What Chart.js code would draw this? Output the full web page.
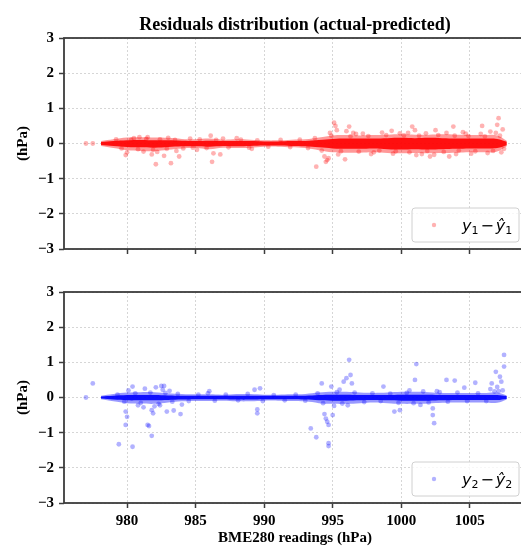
<!DOCTYPE html>
<html>
<head>
<meta charset="utf-8">
<script src="https://cdn.jsdelivr.net/npm/chart.js@4/dist/chart.umd.min.js"></script>
<style>
  html, body { margin: 0; padding: 0; background: #fff; width: 521px; height: 546px; overflow: hidden; }
  canvas { position: absolute; left: 0; }
</style>
</head>
<body>
<canvas id="top" width="530" height="270" style="top:0"></canvas>
<canvas id="bottom" width="530" height="280" style="top:270px"></canvas>
<script>
// axis range and ticks
const xMin = 975.4, xMax = 1009.1;
const xTicks = [980, 985, 990, 995, 1000, 1005];
const yTicks = [-3, -2, -1, 0, 1, 2, 3];

// dense band around zero, read as envelopes at each hPa
const bandX = [978.1,979,980,981,982,983,984,985,986,987,988,989,990,991,992,993,994,995,996,997,998,999,1000,1001,1002,1003,1004,1005,1006,1007,1007.7];
const topCoreHi = [0.04,0.07,0.09,0.10,0.09,0.09,0.08,0.07,0.08,0.07,0.07,0.07,0.06,0.06,0.07,0.07,0.10,0.13,0.14,0.14,0.14,0.15,0.16,0.15,0.16,0.15,0.14,0.14,0.14,0.13,0.05];
const topCoreLo = [-0.04,-0.07,-0.10,-0.11,-0.12,-0.10,-0.08,-0.08,-0.09,-0.07,-0.08,-0.07,-0.06,-0.06,-0.07,-0.08,-0.11,-0.14,-0.15,-0.15,-0.14,-0.16,-0.17,-0.16,-0.17,-0.16,-0.15,-0.14,-0.14,-0.13,-0.05];
const topFuzzHi = [0.07,0.12,0.17,0.18,0.17,0.16,0.13,0.12,0.14,0.11,0.12,0.11,0.09,0.09,0.11,0.12,0.17,0.23,0.24,0.23,0.24,0.25,0.26,0.25,0.25,0.26,0.25,0.24,0.24,0.23,0.08];
const topFuzzLo = [-0.07,-0.13,-0.19,-0.21,-0.22,-0.18,-0.14,-0.13,-0.16,-0.12,-0.13,-0.12,-0.09,-0.09,-0.11,-0.13,-0.19,-0.25,-0.26,-0.26,-0.25,-0.27,-0.28,-0.27,-0.28,-0.27,-0.26,-0.25,-0.25,-0.23,-0.08];
const botCoreHi = [0.03,0.05,0.07,0.07,0.07,0.06,0.05,0.05,0.05,0.05,0.05,0.05,0.05,0.05,0.05,0.05,0.07,0.08,0.08,0.07,0.07,0.07,0.08,0.08,0.08,0.07,0.07,0.07,0.07,0.07,0.04];
const botCoreLo = [-0.03,-0.06,-0.08,-0.08,-0.08,-0.07,-0.06,-0.05,-0.05,-0.05,-0.06,-0.06,-0.05,-0.05,-0.05,-0.06,-0.08,-0.09,-0.09,-0.08,-0.07,-0.08,-0.09,-0.09,-0.09,-0.08,-0.07,-0.07,-0.07,-0.07,-0.04];
const botFuzzHi = [0.05,0.10,0.14,0.15,0.15,0.12,0.10,0.09,0.09,0.08,0.10,0.10,0.08,0.08,0.09,0.10,0.14,0.16,0.16,0.14,0.13,0.14,0.16,0.16,0.15,0.13,0.13,0.13,0.13,0.14,0.06];
const botFuzzLo = [-0.05,-0.11,-0.16,-0.17,-0.18,-0.14,-0.11,-0.10,-0.10,-0.09,-0.11,-0.11,-0.09,-0.09,-0.10,-0.11,-0.16,-0.18,-0.18,-0.16,-0.14,-0.16,-0.18,-0.18,-0.17,-0.15,-0.14,-0.14,-0.14,-0.15,-0.06];

// scattered residuals (x hPa, residual hPa)
const topPoints = [
  [977.0,0.0],[977.5,0.0],[979.9,-0.33],[980.0,-0.25],[981.2,-0.23],[981.8,-0.31],[982.1,-0.59],[982.7,-0.35],
  [983.2,-0.56],[983.8,-0.37],[986.1,0.22],[986.2,-0.52],[986.8,-0.31],[986.3,-0.28],[988.0,0.15],[980.5,0.15],
  [981.5,0.18],[984.6,0.14],[983.0,0.16],[993.8,-0.66],[994.4,-0.37],[994.6,-0.47],[994.7,-0.42],[994.5,-0.52],
  [995.1,0.59],[995.2,0.50],[995.3,0.38],[996.2,0.48],[996.0,0.35],[995.9,-0.45],[996.5,0.30],[999.3,0.36],
  [999.9,0.29],[1000.8,0.48],[1001.0,0.38],[1002.1,-0.37],[1002.5,0.38],[1003.5,-0.37],[1003.8,0.48],[1004.5,0.32],
  [1005.9,0.50],[1006.5,0.34],[1007.0,0.53],[1007.1,0.72],[1007.4,0.40],[1001.5,-0.30],[998.0,-0.25],[997.2,0.28],
  [979.2,0.12],[979.6,-0.14],[980.3,0.11],[980.8,-0.16],[981.4,0.13],[981.9,-0.18],[982.4,0.12],[982.9,-0.15],
  [983.5,0.10],[984.1,-0.14],[984.8,-0.12],[985.3,0.12],[985.8,-0.13],[986.5,0.10],[987.4,-0.11],[988.3,0.11],
  [988.9,-0.12],[989.5,0.09],[990.3,-0.09],[991.2,0.10],[991.9,-0.10],[992.6,0.11],[993.2,-0.13],[993.7,0.15],
  [994.2,-0.20],[994.9,0.22],[995.6,-0.22],[996.3,0.20],[996.9,-0.23],[997.6,0.21],[998.4,-0.20],[998.9,0.24],
  [999.6,-0.22],[1000.2,0.23],[1000.6,-0.25],[1001.3,0.22],[1001.9,-0.21],[1002.7,0.24],[1003.1,-0.24],[1003.9,0.22],
  [1004.2,-0.20],[1004.9,0.21],[1005.4,-0.22],[1006.1,0.20],[1006.7,-0.21],[1007.2,0.22],[1007.5,-0.15],
  [994.8,0.30],[995.4,-0.31],[996.7,0.27],[997.8,-0.30],[998.6,0.31],[999.4,-0.29],[1000.5,0.30],[1001.1,-0.33],
  [1001.8,0.29],[1002.4,-0.32],[1003.3,0.30],[1004.0,-0.30],[1004.7,0.28],[1005.1,-0.29],[1005.8,0.27],[1006.3,-0.27],
  [1006.9,0.30],[1007.3,-0.25],[980.9,0.18],[982.2,-0.24],[983.6,-0.21],[985.1,-0.18],[987.0,0.14],[989.1,-0.15]
];
const bottomPoints = [
  [977.0,0.0],[977.5,0.40],[980.4,0.31],[979.9,-0.40],[980.0,-0.55],[979.9,-0.78],[979.4,-1.33],[980.4,-1.40],
  [981.6,-0.81],[981.5,-0.78],[981.8,-1.09],[982.5,0.33],[982.7,0.33],[982.1,0.29],[981.8,-0.36],[981.9,-0.45],
  [982.0,-0.25],[982.9,-0.40],[983.4,-0.37],[983.9,-0.47],[981.3,0.25],[980.1,0.20],[989.5,-0.34],[989.5,-0.45],
  [989.7,0.26],[989.3,0.22],[986.0,0.18],[984.0,-0.20],[994.2,0.40],[994.9,0.31],[994.4,-0.47],[994.6,-0.69],
  [994.7,-0.78],[994.5,-0.60],[994.7,-1.30],[994.7,-1.38],[993.8,-1.13],[993.4,-0.88],[995.0,-0.50],[996.2,1.07],
  [996.3,0.64],[996.4,0.40],[995.8,0.45],[996.0,0.55],[998.7,0.31],[999.9,-0.36],[999.5,-0.40],[1001.1,0.95],
  [1001.0,0.50],[1002.3,-0.31],[1002.3,-0.50],[1002.4,-0.73],[1003.3,0.50],[1003.9,0.48],[1005.4,0.42],[1006.6,0.40],
  [1006.9,0.73],[1007.2,0.59],[1007.5,1.21],[1007.5,0.88],[1007.3,0.45],[1007.0,0.30],[1004.6,0.28],
  [979.3,0.08],[979.8,-0.12],[980.6,0.12],[981.0,-0.15],[981.7,0.14],[982.3,-0.18],[982.8,0.13],[983.3,-0.12],
  [983.7,0.10],[984.5,-0.10],[985.2,0.08],[985.9,0.12],[986.4,-0.09],[987.2,0.08],[988.1,-0.08],[988.8,0.10],
  [989.9,-0.10],[990.7,0.07],[991.5,-0.08],[992.3,0.08],[993.0,-0.09],[993.9,0.12],[994.3,-0.16],[995.3,0.15],
  [995.7,-0.17],[996.6,0.14],[997.3,-0.13],[997.9,0.12],[998.5,-0.10],[999.2,0.11],[999.8,-0.15],[1000.4,0.13],
  [1000.9,-0.16],[1001.6,0.17],[1002.0,-0.14],[1002.8,0.15],[1003.4,-0.12],[1004.1,0.14],[1004.8,-0.10],[1005.6,0.12],
  [1006.2,-0.10],[1006.8,0.17],[1007.4,0.20],
  [980.8,-0.22],[981.2,-0.28],[982.4,-0.22],[982.6,0.22],[983.1,0.19],[995.1,-0.24],[995.5,0.22],[996.1,-0.22],
  [1000.6,0.20],[1001.4,-0.21],[1002.6,0.18],[1006.5,0.24],[1007.1,0.18]
];

const serif = '"Liberation Serif", "Times New Roman", serif';
Chart.defaults.color = '#000';
Chart.defaults.font.family = serif;

const spines = {
  id: 'spines',
  afterDatasetsDraw(chart) {
    const a = chart.chartArea, ctx = chart.ctx;
    ctx.save();
    ctx.strokeStyle = '#3c3c3c';
    ctx.lineWidth = 1.8;
    ctx.strokeRect(a.left, a.top, a.right - a.left, a.bottom - a.top);
    ctx.restore();
  }
};

const mathLegend = {
  id: 'mathLegend',
  afterDraw(chart, args, opts) {
    const a = chart.chartArea, ctx = chart.ctx;
    const w = 107, h = 34;
    const bx = 519 - w, by = a.bottom - 7 - h;
    ctx.save();
    ctx.beginPath();
    ctx.roundRect(bx, by, w, h, 3);
    ctx.fillStyle = 'rgba(255,255,255,0.8)';
    ctx.fill();
    ctx.strokeStyle = '#d0d0d0';
    ctx.lineWidth = 1;
    ctx.stroke();
    ctx.beginPath();
    ctx.arc(bx + 22, by + h / 2, 2.2, 0, Math.PI * 2);
    ctx.fillStyle = opts.color;
    ctx.fill();
    // y_i − ŷ_i
    let x = bx + 50;
    const base = by + h / 2 + 6;
    ctx.fillStyle = '#000';
    ctx.textBaseline = 'alphabetic';
    const part = (t, font, dy, gap) => {
      ctx.font = font;
      ctx.fillText(t, x, base + dy);
      x += ctx.measureText(t).width + gap;
    };
    part('y', 'italic 16px "DejaVu Sans"', 0, 0);
    part(opts.idx, '11px "DejaVu Sans"', 3, 2);
    part('\u2212', '16px "DejaVu Sans"', 0, 2);
    part('\u0177', 'italic 16px "DejaVu Sans"', 0, 0);
    part(opts.idx, '11px "DejaVu Sans"', 3, 0);
    ctx.restore();
  }
};

function makeChart(id, cfg) {
  const pts = cfg.points.map(p => ({x: p[0], y: p[1]}));
  const band = arr => bandX.map((x, i) => ({x: x, y: arr[i]}));
  const solid = cfg.rgb;
  new Chart(document.getElementById(id), {
    type: 'line',
    data: {
      datasets: [
        { data: pts, showLine: false, pointRadius: 2.4, pointBorderWidth: 0,
          pointBackgroundColor: 'rgba(' + solid + ',0.3)' },
        { data: band(cfg.coreHi), pointRadius: 0, borderWidth: 0, tension: 0.4,
          fill: '+1', backgroundColor: 'rgba(' + solid + ',0.9)' },
        { data: band(cfg.coreLo), pointRadius: 0, borderWidth: 0, tension: 0.4, fill: false },
        { data: band(cfg.fuzzHi), pointRadius: 0, borderWidth: 0, tension: 0.4,
          fill: '+1', backgroundColor: 'rgba(' + solid + ',0.4)' },
        { data: band(cfg.fuzzLo), pointRadius: 0, borderWidth: 0, tension: 0.4, fill: false }
      ]
    },
    options: {
      responsive: false,
      animation: false,
      layout: { padding: { top: cfg.padTop, right: 4, bottom: 0, left: 0 } },
      plugins: {
        legend: { display: false },
        tooltip: { enabled: false },
        title: cfg.title ? {
          display: true, text: cfg.title, fullSize: false,
          font: { size: 18, weight: 'bold', family: serif, lineHeight: 1.25 },
          padding: { top: 14, bottom: 1.5 }, color: '#000'
        } : { display: false },
        mathLegend: { color: 'rgba(' + solid + ',0.3)', idx: cfg.idx }
      },
      scales: {
        x: {
          type: 'linear', min: xMin, max: xMax,
          afterBuildTicks: s => { s.ticks = xTicks.map(v => ({value: v})); },
          afterFit: s => { s.height = cfg.xHeight; },
          ticks: { display: cfg.xLabels, font: { size: 15, weight: 'bold' }, padding: 4, maxRotation: 0,
                   callback: v => String(v) },
          grid: { color: '#d6d6d6', lineWidth: 1, tickLength: 5, tickColor: '#3c3c3c', tickWidth: 1.5 },
          border: { display: false, dash: [2, 2] },
          title: cfg.xLabels ? {
            display: true, text: 'BME280 readings (hPa)',
            font: { size: 15, weight: 'bold' }, padding: { top: 0, bottom: 3 }
          } : { display: false }
        },
        y: {
          min: -3, max: 3,
          afterBuildTicks: s => { s.ticks = yTicks.map(v => ({value: v})); },
          afterFit: s => { s.width = 64; },
          ticks: {
            font: { size: 15, weight: 'bold' }, padding: 5,
            callback: v => v < 0 ? '\u2212' + Math.abs(v) : String(v)
          },
          grid: { color: '#d6d6d6', lineWidth: 1, tickLength: 5, tickColor: '#3c3c3c', tickWidth: 1.5 },
          border: { display: false, dash: [2, 2] },
          title: {
            display: true, text: '(hPa)',
            font: { size: 15, weight: 'bold' }, padding: { top: 14, bottom: 0 }
          }
        }
      }
    },
    plugins: [spines, mathLegend]
  });
}

makeChart('top', {
  points: topPoints, coreHi: topCoreHi, coreLo: topCoreLo, fuzzHi: topFuzzHi, fuzzLo: topFuzzLo,
  rgb: '255,0,0', idx: '1', title: 'Residuals distribution (actual-predicted)',
  padTop: 0, xHeight: 21, xLabels: false
});
makeChart('bottom', {
  points: bottomPoints, coreHi: botCoreHi, coreLo: botCoreLo, fuzzHi: botFuzzHi, fuzzLo: botFuzzLo,
  rgb: '0,0,255', idx: '2', title: null,
  padTop: 22, xHeight: 47, xLabels: true
});
</script>
</body>
</html>
